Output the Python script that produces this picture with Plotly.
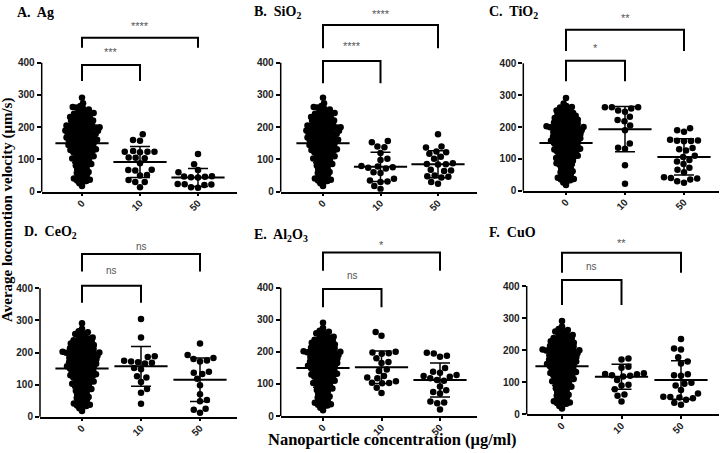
import plotly.graph_objects as go

# ---------------- data ----------------
categories = ["0", "10", "50"]

control = [291, 274, 266, 263, 261, 258, 255, 252, 249, 247, 244, 242, 240,
           238, 236, 235, 232, 230, 228, 227, 225, 223, 221, 220,
           219, 217, 215, 213, 211, 210, 208, 206, 205, 203, 202, 201, 200,
           199, 198, 197, 196, 195, 193, 192, 190, 189, 187, 186, 184, 183, 181, 180,
           179, 177, 176, 174, 173, 171, 170, 168, 167, 165, 164, 163, 161, 160,
           159, 157, 156, 154, 153, 151, 150, 148, 147, 145, 143, 142, 140,
           139, 137, 135, 134, 132, 130, 129, 127, 126, 124, 122, 120,
           119, 117, 114, 112, 110, 108, 106, 105, 103, 101,
           99, 96, 94, 91, 89, 86, 84, 81,
           79, 76, 73, 70, 67, 64, 61,
           58, 55, 51, 47, 44, 41,
           39, 37, 35, 33, 30, 26, 18]

ag_10 = [178, 160, 158, 126, 124, 124, 124, 122, 106, 105, 104, 88, 68, 67, 66, 52, 50, 36, 30, 30, 14]
ag_50 = [117, 85, 67, 60, 48, 47, 46, 45, 44, 24, 23, 22, 21, 14, 12]
sio2_10 = [157, 153, 140, 138, 120, 102, 98, 80, 78, 76, 74, 72, 60, 58, 40, 35, 32, 30, 18, 8]
sio2_50 = [178, 140, 137, 125, 122, 118, 108, 102, 88, 86, 85, 84, 68, 66, 64, 50, 48, 46, 44, 30, 25]
tio2_10 = [262, 258, 262, 262, 252, 248, 232, 222, 218, 205, 190, 148, 135, 132, 80, 22]
tio2_50 = [196, 190, 185, 160, 158, 157, 156, 155, 134, 130, 126, 110, 106, 96, 92, 84, 72, 66,
           58, 42, 40, 38, 35, 30, 25]
ceo2_10 = [304, 247, 188, 186, 174, 172, 170, 168, 166, 152, 148, 126, 122, 108, 86, 75, 40]
ceo2_50 = [228, 192, 183, 180, 175, 172, 140, 137, 133, 118, 98, 70, 52, 48, 25, 22, 12]
al2o3_10 = [262, 250, 200, 198, 196, 194, 180, 168, 165, 145, 140, 125, 120, 118, 108, 104, 103, 102, 88, 72]
al2o3_50 = [197, 195, 188, 185, 150, 138, 135, 128, 125, 122, 118, 112, 110, 92, 80, 75, 70, 45, 42, 40, 20]
cuo_10 = [174, 171, 148, 145, 128, 126, 125, 122, 120, 118, 107, 92, 90, 78, 62, 58, 40]
cuo_50 = [235, 205, 202, 178, 165, 158, 125, 122, 120, 98, 95, 90, 76, 65, 55, 54, 52, 50, 45, 36, 30]

ag_mean, ag_sd = [150, 92, 44], [60, 48, 28]
sio2_mean, sio2_sd = [150, 77, 85], [60, 45, 42]
tio2_mean, tio2_sd = [150, 193, 106], [60, 71, 57]
ceo2_mean, ceo2_sd = [150, 157, 115], [60, 62, 68]
al2o3_mean, al2o3_sd = [150, 152, 112], [60, 51, 53]
cuo_mean, cuo_sd = [150, 117, 107], [60, 39, 60]

panel_titles = ["A.\u00a0 Ag", "B.\u00a0 SiO<sub>2</sub>", "C.\u00a0 TiO<sub>2</sub>",
                "D.\u00a0 CeO<sub>2</sub>", "E.\u00a0 Al<sub>2</sub>O<sub>3</sub>", "F.\u00a0 CuO"]
sig_near = ["***", "****", "*", "ns", "ns", "ns"]
sig_far = ["****", "****", "**", "ns", "*", "**"]
y_ticks = [0, 100, 200, 300, 400]

groups = [
    (control, ag_10, ag_50, ag_mean, ag_sd),
    (control, sio2_10, sio2_50, sio2_mean, sio2_sd),
    (control, tio2_10, tio2_50, tio2_mean, tio2_sd),
    (control, ceo2_10, ceo2_50, ceo2_mean, ceo2_sd),
    (control, al2o3_10, al2o3_50, al2o3_mean, al2o3_sd),
    (control, cuo_10, cuo_50, cuo_mean, cuo_sd),
]

# ---------------- layout geometry (pixels) ----------------
W, H = 721, 453
# left, right, x of first category, category spacing, y of 0, y of 400, top of plot area
geom = [
    (41.7, 237, 82, 58, 191.7, 62.7, 8),
    (280.7, 477, 323, 57.5, 191.7, 62.7, 8),
    (523.3, 719, 566, 59, 190.7, 63.3, 8),
    (40, 237, 82, 59, 416.7, 288.3, 236),
    (280.7, 477, 323, 58.5, 416, 287.7, 236),
    (526.7, 719, 562, 59.5, 414.3, 286, 236),
]
# bracket heights (axis units): near top, near leg, far top, far leg, near label, far label
brackets = [
    (393, 343, 477, 446, 432, 514),
    (405, 336, 517, 445, 452, 550),
    (408, 344, 505, 439, 447, 543),
    (408, 355, 507, 452, 457, 530),
    (396, 339, 510, 453, 437, 533),
    (419, 341, 504, 441, 460, 533),
]
title_pos = [(15, 12), (252, 12), (487, 12), (22, 233), (252, 235), (487, 233)]


def swarm(values, ppu, dmin):
    """Deterministic beeswarm: pixel x offsets so dots keep dmin apart."""
    order = sorted(range(len(values)), key=lambda i: values[i])
    placed = []
    xs = [0.0] * len(values)
    for k, i in enumerate(order):
        y = values[i] * ppu
        cands = [0.0]
        for xj, yj in placed:
            dy = abs(y - yj)
            if dy < dmin:
                dx = (dmin ** 2 - dy ** 2) ** 0.5
                cands += [xj - dx, xj + dx]
        sgn = 1 if k % 2 else -1
        cands.sort(key=lambda c: (round(abs(c), 6), sgn * c))
        for c in cands:
            if all((c - xj) ** 2 + (y - yj) ** 2 >= dmin ** 2 - 1e-6 for xj, yj in placed):
                xs[i] = c
                placed.append((c, y))
                break
    return xs


fig = go.Figure()
layout = dict(width=W, height=H, margin=dict(l=0, r=0, t=0, b=0, pad=0, autoexpand=False),
              plot_bgcolor="white", paper_bgcolor="white", showlegend=False,
              template="none")
shapes, annotations = [], []
tickfont = dict(family="Liberation Sans, Arial, sans-serif", size=10, color="#222", weight="bold")

for p in range(6):
    n = p + 1
    sfx = "" if n == 1 else str(n)
    xa, ya = f"x{sfx}", f"y{sfx}"
    left, right, cat0, sp, y0, y400, top = geom[p]
    ppu = (y0 - y400) / 400.0
    ymax = (y0 - top) / ppu
    xr = [-(cat0 - left) / sp, (right - cat0) / sp]
    layout[f"xaxis{sfx}"] = dict(domain=[left / W, right / W], range=xr, anchor=ya,
                                 tickmode="array", tickvals=[0, 1, 2], ticktext=categories,
                                 tickangle=-45, automargin=False, ticklabelstandoff=-3,
                                 ticks="outside", ticklen=3, tickwidth=1.5, tickcolor="black",
                                 showline=True, linewidth=1.5, linecolor="black",
                                 showgrid=False, zeroline=False, tickfont=tickfont)
    layout[f"yaxis{sfx}"] = dict(domain=[1 - y0 / H, 1 - top / H], range=[0, ymax], anchor=xa,
                                 tickmode="array", tickvals=y_ticks, automargin=False,
                                 ticks="outside", ticklen=4, tickwidth=1.5,
                                 tickcolor="black", showline=False, showgrid=False,
                                 zeroline=False, tickfont=tickfont)
    # y axis line only up to 400
    shapes.append(dict(type="line", xref=f"{xa} domain", yref=f"{ya} domain",
                       x0=0, x1=0, y0=0, y1=400.0 / ymax,
                       line=dict(color="black", width=1.5)))

    g0, g1, g2, means, sds = groups[p]
    for gi, vals in enumerate([g0, g1, g2]):
        dmin = 3.7 if gi == 0 else 7.0
        offs = swarm(vals, ppu, dmin)
        fig.add_trace(go.Scatter(x=[gi + o / sp for o in offs], y=vals, mode="markers",
                                 xaxis=xa, yaxis=ya, hoverinfo="skip",
                                 marker=dict(size=6.5, color="black", line=dict(width=0))))
    fig.add_trace(go.Scatter(x=[0, 1, 2], y=means, mode="markers", xaxis=xa, yaxis=ya,
                             marker=dict(symbol="line-ew", size=38,
                                         line=dict(width=2, color="black")),
                             error_y=dict(type="data", array=sds, visible=True,
                                          thickness=1.5, width=10, color="black")))

    nt, nl, ft, fl, nly, fly = brackets[p]
    fig.add_trace(go.Scatter(x=[0, 0, 1, 1], y=[nl, nt, nt, nl], mode="lines",
                             xaxis=xa, yaxis=ya, hoverinfo="skip",
                             line=dict(color="black", width=2)))
    fig.add_trace(go.Scatter(x=[0, 0, 2, 2], y=[fl, ft, ft, fl], mode="lines",
                             xaxis=xa, yaxis=ya, hoverinfo="skip",
                             line=dict(color="black", width=2)))
    for txt, xx, yy in [(sig_near[p], 0.5, nly), (sig_far[p], 1.0, fly)]:
        annotations.append(dict(text=txt, x=xx, y=yy, xref=xa, yref=ya, showarrow=False,
                                xanchor="center", yanchor="middle",
                                font=dict(family="Liberation Sans, Arial, sans-serif",
                                          size=10 if txt == "ns" else 11, color="#555")))

    tx, ty = title_pos[p]
    annotations.append(dict(text=panel_titles[p], x=tx / W, y=1 - ty / H, xref="paper",
                            yref="paper", showarrow=False, xanchor="left", yanchor="middle",
                            font=dict(family="Liberation Serif, Times New Roman, serif",
                                      size=14, color="black", weight="bold")))

annotations.append(dict(text="Average locomotion velocity (\u03bcm/s)", x=8 / W, y=1 - 210 / H,
                        xref="paper", yref="paper", showarrow=False, textangle=-90,
                        xanchor="center", yanchor="middle",
                        font=dict(family="Liberation Serif, Times New Roman, serif",
                                  size=15, color="black", weight="bold")))
annotations.append(dict(text="Nanoparticle concentration (\u03bcg/ml)", x=392 / W, y=1 - 439 / H,
                        xref="paper", yref="paper", showarrow=False,
                        xanchor="center", yanchor="middle",
                        font=dict(family="Liberation Serif, Times New Roman, serif",
                                  size=16.5, color="black", weight="bold")))

layout["shapes"] = shapes
layout["annotations"] = annotations
fig.update_layout(**layout)
fig.write_html("out.html", config={"displayModeBar": False},
               post_script="document.body.style.margin='0';document.body.style.overflow='hidden';")
